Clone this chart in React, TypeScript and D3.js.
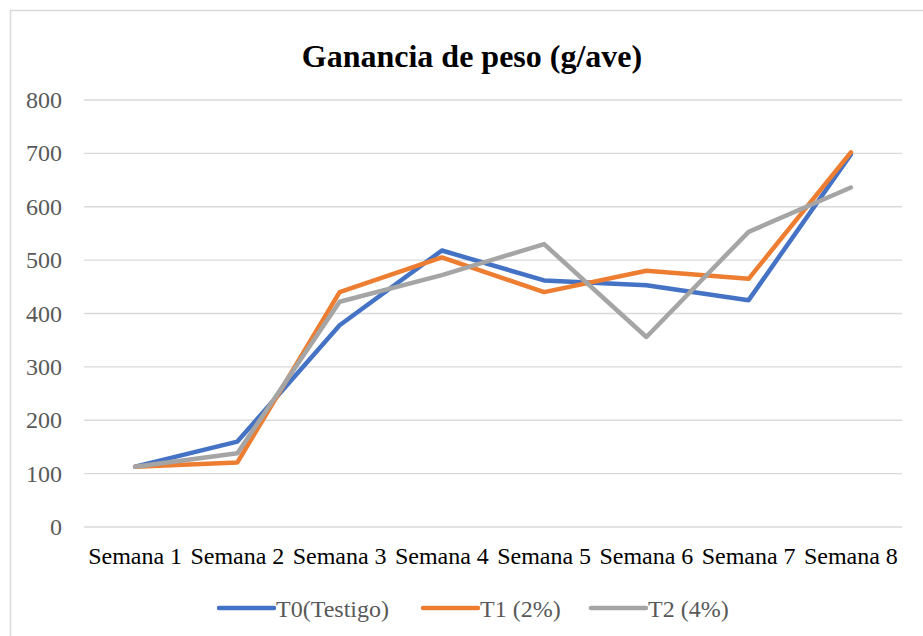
import React, { useEffect, useRef } from 'react';
import * as d3 from 'd3';

const WEEKS = ['Semana 1', 'Semana 2', 'Semana 3', 'Semana 4', 'Semana 5', 'Semana 6', 'Semana 7', 'Semana 8'];
const T0 = [113, 160, 378, 518, 462, 453, 425, 698];
const T1 = [113, 121, 440, 505, 440, 480, 465, 702];
const T2 = [113, 138, 422, 472, 530, 356, 553, 636];
const Y_TICKS = [0, 100, 200, 300, 400, 500, 600, 700, 800];

const SERIES = [
  { name: 'T0(Testigo)', values: T0, color: '#4472C4' },
  { name: 'T1 (2%)', values: T1, color: '#ED7D31' },
  { name: 'T2 (4%)', values: T2, color: '#A5A5A5' },
];

const W = 923;
const H = 636;
const FONT = '"Liberation Serif", "Times New Roman", serif';

export default function App() {
  const svgRef = useRef<SVGSVGElement>(null);

  useEffect(() => {
    const svg = d3.select(svgRef.current);
    svg.selectAll('*').remove();

    // chart frame (cut off at right and bottom like the original)
    svg.append('rect')
      .attr('x', 10.5).attr('y', 10.5)
      .attr('width', 930).attr('height', 640)
      .attr('fill', '#fff')
      .attr('stroke', '#d9d9d9')
      .attr('stroke-width', 1.5);

    const left = 84, right = 902, top = 100, bottom = 527;

    const x = d3.scaleBand().domain(WEEKS).range([left, right]);
    const y = d3.scaleLinear().domain([0, 800]).range([bottom, top]);

    // title
    svg.append('text')
      .attr('x', 472).attr('y', 67)
      .attr('text-anchor', 'middle')
      .attr('font-family', FONT)
      .attr('font-size', 32)
      .attr('font-weight', 700)
      .attr('fill', '#000')
      .text('Ganancia de peso (g/ave)');

    // gridlines
    svg.append('g')
      .selectAll('line')
      .data(Y_TICKS)
      .join('line')
      .attr('x1', left).attr('x2', right)
      .attr('y1', d => y(d)).attr('y2', d => y(d))
      .attr('stroke', '#d9d9d9')
      .attr('stroke-width', 1.3);

    // y labels
    svg.append('g')
      .selectAll('text')
      .data(Y_TICKS)
      .join('text')
      .attr('x', 62)
      .attr('y', d => y(d) + 8)
      .attr('text-anchor', 'end')
      .attr('font-family', FONT)
      .attr('font-size', 24)
      .attr('fill', '#595959')
      .text(d => d);

    // x labels
    svg.append('g')
      .selectAll('text')
      .data(WEEKS)
      .join('text')
      .attr('x', d => (x(d) as number) + x.bandwidth() / 2)
      .attr('y', 564)
      .attr('text-anchor', 'middle')
      .attr('font-family', FONT)
      .attr('font-size', 24)
      .attr('fill', '#000')
      .text(d => d);

    // lines
    const line = d3.line<number>()
      .x((_, i) => (x(WEEKS[i]) as number) + x.bandwidth() / 2)
      .y(d => y(d));

    svg.append('g')
      .selectAll('path')
      .data(SERIES)
      .join('path')
      .attr('d', s => line(s.values))
      .attr('fill', 'none')
      .attr('stroke', s => s.color)
      .attr('stroke-width', 4.5)
      .attr('stroke-linejoin', 'round')
      .attr('stroke-linecap', 'round');

    // legend
    const legendX = [219, 423, 591];
    const lg = svg.append('g')
      .selectAll('g')
      .data(SERIES)
      .join('g')
      .attr('transform', (_, i) => `translate(${legendX[i]},608)`);
    lg.append('line')
      .attr('x1', 0).attr('x2', 55)
      .attr('stroke', s => s.color)
      .attr('stroke-width', 4.5)
      .attr('stroke-linecap', 'round');
    lg.append('text')
      .attr('x', 57)
      .attr('y', 9)
      .attr('font-family', FONT)
      .attr('font-size', 24)
      .attr('fill', '#595959')
      .text(s => s.name);
  }, []);

  return (
    <svg
      ref={svgRef}
      width={W}
      height={H}
      style={{ position: 'absolute', left: 0, top: 0, background: '#fff' }}
    />
  );
}
